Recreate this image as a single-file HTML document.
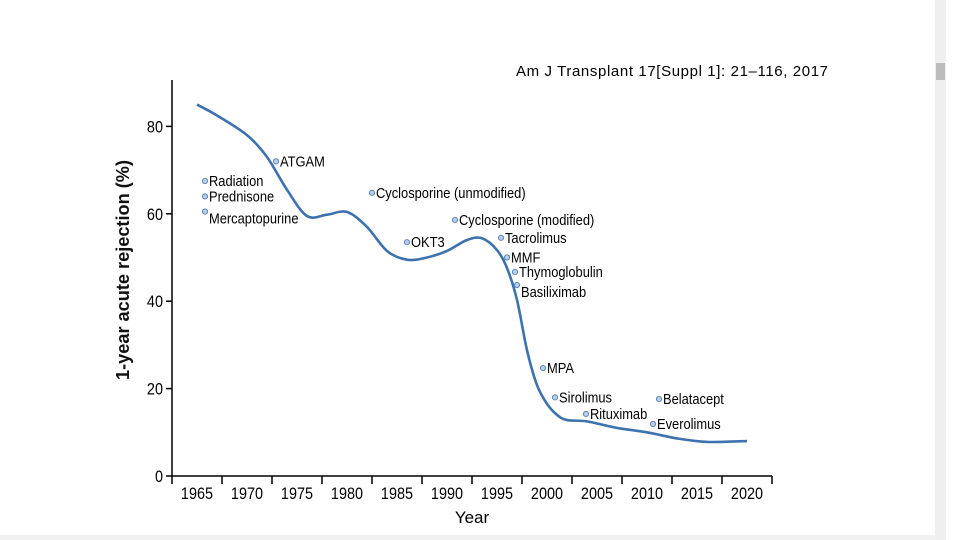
<!DOCTYPE html>
<html><head><meta charset="utf-8"><style>
html,body{margin:0;padding:0;background:#fff;width:960px;height:540px;overflow:hidden}
svg text{font-family:"Liberation Sans",Arial,sans-serif}
</style></head><body>
<svg id="chart" width="960" height="540" viewBox="0 0 960 540">
<rect x="935" y="0" width="11" height="540" fill="#efefef"/>
<rect x="936" y="63" width="9" height="17" fill="#bcbcbc"/>
<rect x="0" y="535" width="935" height="5" fill="#f0f0f0"/>
<text x="516" y="76" font-size="15" textLength="312" lengthAdjust="spacing" fill="#000">Am J Transplant 17[Suppl 1]: 21–116, 2017</text>
<g id="axes"></g>
<path id="curve" fill="none" stroke="#3d72ae" stroke-width="2.6"/>
<g id="marks"></g>
<text transform="translate(129,270) rotate(-90)" text-anchor="middle" font-size="18" font-weight="bold" textLength="220" lengthAdjust="spacingAndGlyphs" fill="#111">1-year acute rejection (%)</text>
<text x="472" y="523" text-anchor="middle" font-size="17">Year</text>
</svg>
<script>
const years=[1965,1967,1970,1972,1974,1976,1978,1980,1982,1984,1986,1988,1990,1992,1993.5,1995,1996,1997,1998,1999,2000,2001,2002,2004,2007,2010,2013,2016,2020];
const rates=[85,82.5,78,73,65.5,59.5,59.8,60.4,57,51.5,49.5,50,51.5,54,54.4,51.7,47.6,40.3,28.8,20.8,16.5,14,12.8,12.5,11,10,8.6,7.8,8];
const tickYears=[1965,1970,1975,1980,1985,1990,1995,2000,2005,2010,2015,2020];
const tickVals=[0,20,40,60,80];
const drugNames=["Radiation","Prednisone","Mercaptopurine","ATGAM","Cyclosporine (unmodified)","OKT3","Cyclosporine (modified)","Tacrolimus","MMF","Thymoglobulin","Basiliximab","MPA","Sirolimus","Rituximab","Belatacept","Everolimus"];
const drugYears=[1965.8,1965.8,1965.8,1972.9,1982.5,1986,1990.8,1995.4,1996,1996.8,1997,1999.6,2000.8,2003.9,2011.2,2010.6];
const drugVals=[67.5,64,60.5,72,64.8,53.5,58.6,54.5,50,46.7,43.7,24.7,18,14.2,17.6,11.9];
const NS="http://www.w3.org/2000/svg";
const X=y=>197+(y-1965)*10;
const Y=v=>476-v*4.37;
function mk(t,a,p){const e=document.createElementNS(NS,t);for(const k in a)e.setAttribute(k,a[k]);(p||document.getElementById('chart')).appendChild(e);return e;}
const ax=document.getElementById('axes');
const yl=mk('line',{x1:172,y1:80,x2:172,y2:476,stroke:'#000','stroke-width':1.5},ax);


const xl=mk('line',{x1:172,y1:476,x2:772,y2:476,stroke:'#000','stroke-width':1.5},ax);


for(let i=0;i<=tickYears.length;i++){const x=X(1965)-25+i*50;
 const t=mk('line',{x1:x,y1:476,x2:x,y2:484,stroke:'#000','stroke-width':1.5},ax);
 
 }
tickYears.forEach(y=>{const t=mk('text',{x:X(y),y:499,'text-anchor':'middle','font-size':17,transform:`translate(${X(y)} 0) scale(0.85 1) translate(${-X(y)} 0)`},ax);t.textContent=y;
 
 });
tickVals.forEach(v=>{const l=mk('line',{x1:166,y1:Y(v),x2:172,y2:Y(v),stroke:'#000','stroke-width':1.5},ax);
 
 
 const t=mk('text',{x:163,y:Y(v)+6,'text-anchor':'end','font-size':17,transform:`translate(163 0) scale(0.85 1) translate(-163 0)`},ax);t.textContent=v;
 
 });
const P=years.map((y,i)=>[X(y),Y(rates[i])]);
let d=`M${P[0][0]},${P[0][1]}`;
for(let i=0;i<P.length-1;i++){const p0=P[i-1]||P[i],p1=P[i],p2=P[i+1],p3=P[i+2]||P[i+1];
 d+=` C${p1[0]+(p2[0]-p0[0])/6},${p1[1]+(p2[1]-p0[1])/6} ${p2[0]-(p3[0]-p1[0])/6},${p2[1]-(p3[1]-p1[1])/6} ${p2[0]},${p2[1]}`;}
document.getElementById('curve').setAttribute('d',d);
const mg=document.getElementById('marks');
drugNames.forEach((n,i)=>{const cx=X(drugYears[i]),cy=Y(drugVals[i]);
 const c=mk('circle',{cx:cx,cy:cy,r:2.6,fill:'#b8cfe8',stroke:'#5f86b8','stroke-width':1},mg);
 
 
 const dy=(n==="Mercaptopurine"||n==="Basiliximab")?12:5;
 const tx=cx+4;
 const t=mk('text',{x:tx,y:cy+dy,'font-size':15,transform:`translate(${tx} 0) scale(0.86 1) translate(${-tx} 0)`},mg);t.textContent=n;
 
 });
</script>
</body></html>
